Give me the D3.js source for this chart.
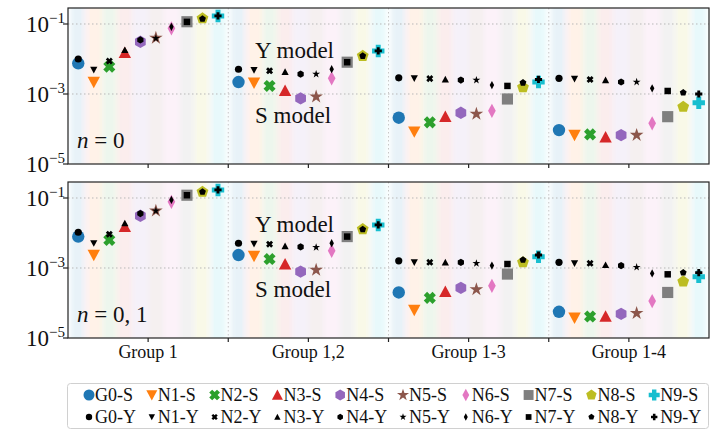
<!DOCTYPE html>
<html>
<head>
<meta charset="utf-8">
<script src="https://cdn.jsdelivr.net/npm/d3@7"></script>
<style>
body { margin: 0; background: #fff; }
text { font-family: "Liberation Serif", "DejaVu Serif", serif; fill: #111; }
</style>
</head>
<body>
<script>
// categories
const series = ['G0', 'N1', 'N2', 'N3', 'N4', 'N5', 'N6', 'N7', 'N8', 'N9'];
const groups = ['Group 1', 'Group 1,2', 'Group 1-3', 'Group 1-4'];
const colors = ['#1f77b4', '#ff7f0e', '#2ca02c', '#d62728', '#9467bd', '#8c564b', '#e377c2', '#7f7f7f', '#bcbd22', '#17becf'];
const yTicks = [1e-1, 1e-3, 1e-5];
const yTickExp = ['\u22121', '\u22123', '\u22125'];

// n = 0, S model (one row per group)
const n0S = [
  [7.5e-3, 2.2e-3, 6e-3, 1.5e-2, 3.1e-2, 4e-2, 7.5e-2, 0.116, 0.145, 0.17],
  [2.2e-3, 2.1e-3, 1.7e-3, 1.25e-3, 7.5e-4, 8.4e-4, 2.8e-3, 8.1e-3, 1.22e-2, 1.7e-2],
  [2.1e-4, 8.4e-5, 1.55e-4, 2.25e-4, 2.9e-4, 2.7e-4, 3.3e-4, 7.2e-4, 1.55e-3, 2.2e-3],
  [9.3e-5, 6.7e-5, 7e-5, 5.8e-5, 6.7e-5, 6.7e-5, 1.45e-4, 2.25e-4, 4.3e-4, 5.6e-4]
];
// n = 0, Y model
const n0Y = [
  [1e-2, 4.9e-3, 8.7e-3, 1.8e-2, 3.5e-2, 3.9e-2, 8.3e-2, 0.115, 0.14, 0.17],
  [5.1e-3, 4.8e-3, 4.6e-3, 4.3e-3, 3.7e-3, 3.7e-3, 5.1e-3, 8.1e-3, 1.22e-2, 1.7e-2],
  [2.9e-3, 2.8e-3, 2.75e-3, 2.6e-3, 2.5e-3, 2.5e-3, 1.8e-3, 1.7e-3, 2.1e-3, 2.6e-3],
  [2.8e-3, 2.7e-3, 2.6e-3, 2.5e-3, 2.2e-3, 2.2e-3, 1.45e-3, 1.22e-3, 1.1e-3, 1e-3]
];
// n = 0,1, S model
const n01S = [
  [7.9e-3, 2.35e-3, 6.3e-3, 1.5e-2, 3.1e-2, 4.3e-2, 7.8e-2, 0.12, 0.15, 0.17],
  [2.35e-3, 2.2e-3, 1.8e-3, 1.28e-3, 7.9e-4, 8.8e-4, 3.1e-3, 7.9e-3, 1.28e-2, 1.7e-2],
  [2.0e-4, 6.3e-5, 1.4e-4, 2.1e-4, 2.7e-4, 2.45e-4, 3.1e-4, 6.7e-4, 1.45e-3, 2.1e-3],
  [5.6e-5, 3.8e-5, 4.1e-5, 4.1e-5, 4.9e-5, 5.1e-5, 1.14e-4, 2.0e-4, 4.1e-4, 5.6e-4]
];
// n = 0,1, Y model
const n01Y = [
  [1.05e-2, 5.1e-3, 9.2e-3, 1.9e-2, 3.6e-2, 4.3e-2, 8.8e-2, 0.12, 0.15, 0.17],
  [5.1e-3, 4.9e-3, 4.8e-3, 4.2e-3, 4e-3, 3.9e-3, 5.1e-3, 7.9e-3, 1.28e-2, 1.7e-2],
  [1.6e-3, 1.45e-3, 1.45e-3, 1.45e-3, 1.45e-3, 1.36e-3, 1.17e-3, 1.3e-3, 1.7e-3, 2.35e-3],
  [1.45e-3, 1.36e-3, 1.36e-3, 1.22e-3, 1.17e-3, 1.05e-3, 7e-4, 6.6e-4, 7.4e-4, 7.4e-4]
];

const svg = d3.select('body').append('svg').attr('width', 711).attr('height', 430);

const left = 68, right = 709;
const x = d3.scaleBand().domain(groups).range([left, right]);
const xin = d3.scaleBand().domain(series).range([0, x.bandwidth()]).paddingOuter(0.16);

// marker shapes, r = half size
function pts(list) { return 'M' + list.map(p => p[0].toFixed(2) + ',' + p[1].toFixed(2)).join('L') + 'Z'; }
function ngon(n, r, rot) {
  return d3.range(n).map(i => {
    const a = rot + i * 2 * Math.PI / n;
    return [r * Math.sin(a), -r * Math.cos(a)];
  });
}
function shape(i, r) {
  switch (i) {
    case 0: return d3.symbol(d3.symbolCircle, Math.PI * r * r)();
    case 1: return pts([[-r, -0.85 * r], [r, -0.85 * r], [0, r]]);
    case 2: {
      const w = 0.38 * r, a = r;
      const p = [[-w, -a], [w, -a], [w, -w], [a, -w], [a, w], [w, w], [w, a], [-w, a], [-w, w], [-a, w], [-a, -w], [-w, -w]];
      const c = Math.SQRT1_2;
      return pts(p.map(q => [(q[0] - q[1]) * c, (q[0] + q[1]) * c]));
    }
    case 3: return pts([[-r, 0.85 * r], [r, 0.85 * r], [0, -r]]);
    case 4: return pts(ngon(6, r, 0));
    case 5: return d3.symbol(d3.symbolStar, r * r * 1.5)();
    case 6: return pts([[0, -r * 1.15], [0.62 * r, 0], [0, r * 1.15], [-0.62 * r, 0]]);
    case 7: return pts([[-0.9 * r, -0.9 * r], [0.9 * r, -0.9 * r], [0.9 * r, 0.9 * r], [-0.9 * r, 0.9 * r]]);
    case 8: return pts(ngon(5, r, 0));
    case 9: {
      const w = 0.4 * r, a = r;
      return pts([[-w, -a], [w, -a], [w, -w], [a, -w], [a, w], [w, w], [w, a], [-w, a], [-w, w], [-a, w], [-a, -w], [-w, -w]]);
    }
  }
}

const defs = svg.append('defs');
defs.append('filter').attr('id', 'soft').attr('x', -0.1).attr('width', 1.2)
  .append('feGaussianBlur').attr('stdDeviation', 2.5);

const panels = [
  {top: 8, bottom: 164, S: n0S, Y: n0Y, lab: '0'},
  {top: 182, bottom: 338, S: n01S, Y: n01Y, lab: '0, 1'}
];

panels.forEach((p, pi) => {
  const y = d3.scaleLog().domain([1e-5, Math.pow(10, -0.543)]).range([p.bottom, p.top]);
  const g = svg.append('g');

  defs.append('clipPath').attr('id', 'clip' + pi)
    .append('rect').attr('x', left).attr('y', p.top).attr('width', right - left).attr('height', p.bottom - p.top);

  // shaded columns
  const bg = g.append('g').attr('clip-path', 'url(#clip' + pi + ')').append('g').attr('filter', 'url(#soft)');
  groups.forEach(gr => {
    bg.selectAll(null).data(series).enter().append('rect')
      .attr('x', d => x(gr) + xin(d))
      .attr('y', p.top - 5)
      .attr('width', xin.bandwidth())
      .attr('height', p.bottom - p.top + 10)
      .attr('fill', (d, i) => colors[i])
      .attr('opacity', 0.09);
  });

  // grid
  g.selectAll(null).data([1e-1, 1e-3]).enter().append('line')
    .attr('x1', left).attr('x2', right)
    .attr('y1', d => y(d)).attr('y2', d => y(d))
    .style('stroke', '#b8b8b8').style('stroke-width', 1).style('stroke-dasharray', '1.5,2.5');
  g.selectAll(null).data(groups.slice(1)).enter().append('line')
    .attr('x1', d => x(d)).attr('x2', d => x(d))
    .attr('y1', p.top).attr('y2', p.bottom)
    .style('stroke', '#c8c8c8').style('stroke-width', 1).style('stroke-dasharray', '1.5,2.5');

  // markers: S first, Y on top
  groups.forEach((gr, gi) => {
    const cx = s => x(gr) + xin(s) + xin.bandwidth() / 2;
    g.selectAll(null).data(series).enter().append('path')
      .attr('transform', (d, i) => 'translate(' + cx(d) + ',' + y(p.S[gi][i]) + ')')
      .attr('d', (d, i) => shape(i, 6.2))
      .attr('fill', (d, i) => colors[i]);
    g.selectAll(null).data(series).enter().append('path')
      .attr('transform', (d, i) => 'translate(' + cx(d) + ',' + y(p.Y[gi][i]) + ')')
      .attr('d', (d, i) => shape(i, 3.6))
      .attr('fill', '#000');
  });

  // frame
  g.append('rect').attr('x', left).attr('y', p.top).attr('width', right - left).attr('height', p.bottom - p.top)
    .attr('fill', 'none').style('stroke', '#222').style('stroke-width', 1.2);

  // y ticks
  g.selectAll(null).data(yTicks).enter().append('line')
    .attr('x1', left - 5).attr('x2', left).attr('y1', d => y(d)).attr('y2', d => y(d))
    .style('stroke', '#222').style('stroke-width', 1.2);
  const yl = g.selectAll(null).data(yTicks).enter().append('text')
    .attr('x', left - 3).attr('y', d => y(d) + 8).attr('text-anchor', 'end').style('font-size', '23px');
  yl.append('tspan').text('10');
  yl.append('tspan').attr('dy', -9).style('font-size', '15px').text((d, i) => yTickExp[i]);

  // x ticks at group centres and group borders
  const xt = groups.map(d => x(d) + x.bandwidth() / 2).concat(groups.slice(1).map(d => x(d)));
  g.selectAll(null).data(xt).enter().append('line')
    .attr('x1', d => d).attr('x2', d => d).attr('y1', p.bottom).attr('y2', p.bottom + 4)
    .style('stroke', '#222').style('stroke-width', 1.2);

  // annotations
  const nl = g.append('text').attr('x', 77).attr('y', p.bottom - 16).style('font-size', '23px');
  nl.append('tspan').style('font-style', 'italic').text('n');
  nl.append('tspan').text(' = ' + p.lab);
  g.append('text').attr('x', 255).attr('y', p.top + 50).style('font-size', '23px').text('Y model');
  g.append('text').attr('x', 255).attr('y', p.top + 115).style('font-size', '23px').text('S model');
});

// group labels
svg.selectAll(null).data(groups).enter().append('text')
  .attr('x', d => x(d) + x.bandwidth() / 2).attr('y', 358)
  .attr('text-anchor', 'middle').style('font-size', '18px').text(d => d);

// legend
const lg = svg.append('g');
lg.append('rect').attr('x', 67.5).attr('y', 383.5).attr('width', 641).attr('height', 45).attr('rx', 3)
  .attr('fill', '#fff').style('stroke', '#d0d0d0').style('stroke-width', 1);
const lx = i => 89 + i * 62.8;
lg.selectAll(null).data(series).enter().append('path')
  .attr('transform', (d, i) => 'translate(' + lx(i) + ',395)')
  .attr('d', (d, i) => shape(i, 5.5)).attr('fill', (d, i) => colors[i]);
lg.selectAll(null).data(series).enter().append('text')
  .attr('x', (d, i) => lx(i) + 6).attr('y', 401).style('font-size', '18px').text(d => d + '-S');
lg.selectAll(null).data(series).enter().append('path')
  .attr('transform', (d, i) => 'translate(' + lx(i) + ',417)')
  .attr('d', (d, i) => shape(i, 3.2)).attr('fill', '#000');
lg.selectAll(null).data(series).enter().append('text')
  .attr('x', (d, i) => lx(i) + 6).attr('y', 423).style('font-size', '18px').text(d => d + '-Y');
</script>
</body>
</html>
